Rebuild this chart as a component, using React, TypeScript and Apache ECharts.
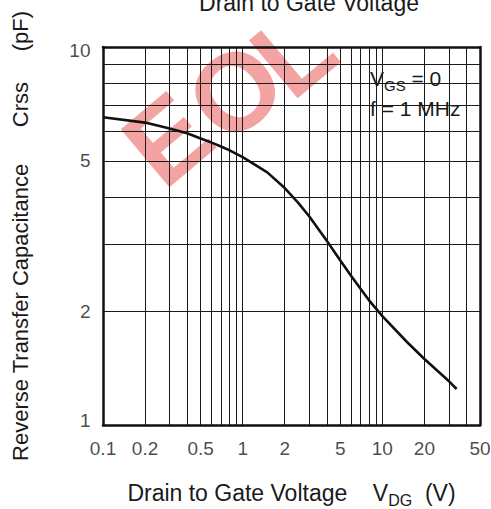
import React, { useEffect, useRef } from "react";
import * as echarts from "echarts";

// Curve: reverse transfer capacitance Crss (pF) vs drain-to-gate voltage VDG (V)
const vdg = [0.1, 0.2, 0.3, 0.4, 0.5, 0.6, 0.7, 0.8, 1, 1.5, 2, 2.5, 3, 4, 5, 6, 7, 8, 10, 15, 20, 30, 34];
const crss = [6.52, 6.31, 6.09, 5.91, 5.73, 5.585, 5.455, 5.335, 5.11, 4.66, 4.235, 3.87, 3.56, 3.07, 2.725, 2.475, 2.29, 2.14, 1.94, 1.658, 1.495, 1.305, 1.245];

// Log grid lines
const xGridValues = [
  0.1, 0.2, 0.3, 0.4, 0.5, 0.6, 0.7, 0.8, 0.9,
  1, 2, 3, 4, 5, 6, 7, 8, 9,
  10, 20, 30, 40, 50,
];
const yGridValues = [1, 2, 3, 4, 5, 6, 7, 8, 9, 10];

// Tick labels
const xTickLabels = [0.1, 0.2, 0.5, 1, 2, 5, 10, 20, 50];
const yTickLabels = [1, 2, 5, 10];

const X_MIN = 0.1;
const X_MAX = 50;
const Y_MIN = 1;
const Y_MAX = 10;

const FONT = "'Liberation Sans', Arial, Helvetica, sans-serif";
const NB = "\u00a0";
const INK = "#1a1a1a";
const PINK = "#f4a3a3";

export default function App() {
  const ref = useRef<HTMLDivElement>(null);

  useEffect(() => {
    if (!ref.current) return;
    const chart = echarts.init(ref.current, null, { renderer: "svg" });

    const axisCommon = {
      type: "log" as const,
      logBase: 10,
      axisTick: { show: false },
      axisLabel: { show: false },
      splitLine: { show: false },
      minorSplitLine: { show: false },
      axisLine: { show: true, onZero: false, lineStyle: { color: "#111", width: 2.5 } },
      z: 10,
    };

    const gridLines = [
      ...xGridValues.map((v) => ({ xAxis: v })),
      ...yGridValues.map((v) => ({ yAxis: v })),
    ];

    const rot = (40 * Math.PI) / 180;
    const wm = (t: string, x: number, y: number) => ({
      type: "text",
      x,
      y,
      rotation: rot,
      silent: true,
      style: {
        text: t,
        fontSize: 110,
        fontWeight: "bold",
        fontFamily: FONT,
        fill: PINK,
        align: "center",
        verticalAlign: "middle",
      },
    });

    chart.setOption({
      animation: false,
      textStyle: { fontFamily: FONT },
      grid: {
        left: 103,
        right: 11,
        top: 47,
        bottom: 84,
        show: false,
        containLabel: false,
        outerBoundsMode: "none",
      },
      title: [
        {
          left: 362,
          top: 62,
          z: 5,
          backgroundColor: "#ffffff",
          padding: [1, 6, 0, 8],
          itemGap: 0,
          text: `{a|V}{s|GS}{a|${NB}=${NB}0}\n{a|f${NB}=${NB}1${NB}MHz}`,
          textStyle: {
            fontWeight: "normal",
            rich: {
              a: { fontSize: 21, fontWeight: "normal", fontFamily: FONT, color: INK, lineHeight: 30 },
              s: { fontSize: 15, fontWeight: "normal", fontFamily: FONT, color: INK, lineHeight: 15, padding: [14, 0, 0, 0] },
            },
          },
        },
      ],
      xAxis: [
        {
          ...axisCommon,
          min: X_MIN,
          max: X_MAX,
          position: "bottom",
          name: `{a|Drain to Gate Voltage${NB}${NB}${NB}${NB}V}{s|DG}{a|${NB}${NB}(V)}`,
          nameLocation: "middle",
          nameGap: 56,
          nameTextStyle: {
            rich: {
              a: { fontSize: 23, fontFamily: FONT, color: INK, lineHeight: 23 },
              s: { fontSize: 16, fontFamily: FONT, color: INK, lineHeight: 16, padding: [16, 0, 0, 0] },
            },
          },
        },
        { ...axisCommon, min: X_MIN, max: X_MAX, position: "top" },
      ],
      yAxis: [
        {
          ...axisCommon,
          min: Y_MIN,
          max: Y_MAX,
          position: "left",
          name: `Reverse Transfer Capacitance${NB.repeat(6)}Crss${NB.repeat(5)}(pF)`,
          nameLocation: "middle",
          nameGap: 72,
          nameTextStyle: { fontSize: 22, fontFamily: FONT, color: INK, lineHeight: 22 },
        },
        { ...axisCommon, min: Y_MIN, max: Y_MAX, position: "right" },
      ],
      graphic: [
        wm("E", 167, 139),
        wm("O", 235, 91),
        wm("L", 293, 52),
        {
          type: "text",
          x: 309,
          y: 3,
          style: {
            text: "Drain to Gate Voltage",
            fontSize: 23,
            fontFamily: FONT,
            fill: INK,
            align: "center",
            verticalAlign: "middle",
          },
        },
      ],
      series: [
        {
          name: "grid",
          type: "line",
          data: [],
          z: 2,
          silent: true,
          markLine: {
            silent: true,
            symbol: ["none", "none"],
            label: { show: false },
            emphasis: { disabled: true },
            lineStyle: { color: INK, width: 1, type: "solid" },
            data: gridLines,
          },
        },
        {
          name: "Crss",
          type: "line",
          z: 6,
          smooth: false,
          showSymbol: false,
          symbol: "none",
          lineStyle: { color: "#111", width: 2.6, join: "round" },
          data: vdg.map((v, i) => [v, crss[i]]),
        },
        {
          name: "xTicks",
          type: "scatter",
          z: 7,
          silent: true,
          clip: false,
          symbolSize: 1,
          itemStyle: { color: "transparent" },
          label: {
            show: true,
            position: "bottom",
            distance: 13,
            fontSize: 19,
            fontFamily: FONT,
            color: INK,
            formatter: (p: any) => String(p.value[0]),
          },
          data: xTickLabels.map((v) => [v, Y_MIN]),
        },
        {
          name: "yTicks",
          type: "scatter",
          z: 7,
          silent: true,
          clip: false,
          symbolSize: 1,
          itemStyle: { color: "transparent" },
          label: {
            show: true,
            position: "left",
            distance: 12,
            fontSize: 19,
            fontFamily: FONT,
            color: INK,
            formatter: (p: any) => String(p.value[1]),
          },
          data: yTickLabels.map((v) => ({
            value: [X_MIN, v],
            label: { offset: [0, v === Y_MAX ? 3 : v === Y_MIN ? -5 : 0] },
          })),
        },
      ],
    });

    return () => chart.dispose();
  }, []);

  return (
    <div
      ref={ref}
      style={{ position: "absolute", left: 0, top: 0, width: 491, height: 509, background: "#fff" }}
    />
  );
}
